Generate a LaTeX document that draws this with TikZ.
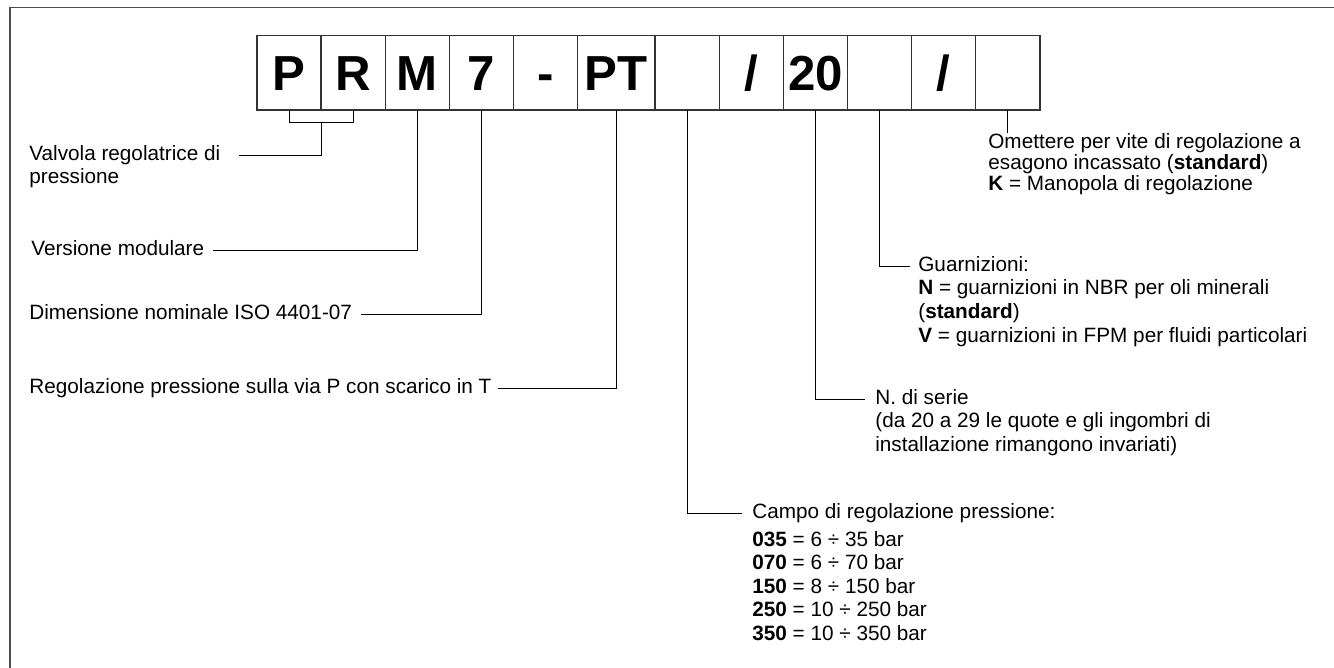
\documentclass[tikz,border=0pt]{standalone}
\usepackage{fontspec}
\setmainfont{Liberation Sans}
\usepackage{tikz}
\usetikzlibrary{positioning,calc}

\newcommand{\lblfont}{\fontsize{11.8}{13.4}\selectfont}
\newcommand{\codefont}{\fontsize{28}{28}\selectfont\bfseries}

\begin{document}
\begin{tikzpicture}[x=0.02cm, y=-0.02cm, node distance=0pt, every node/.style={font=\lblfont}]
\tikzset{codebox/.style={draw=black!80, line width=0.8pt, minimum width=1.2826cm, minimum height=1.486cm, inner sep=0pt, outer sep=0pt, text height=20pt, text depth=0pt, font=\codefont}}
\tikzset{leader/.style={draw=black, line width=0.5pt}}
\tikzset{lbl/.style={anchor=west, inner sep=0pt, text height=8.5pt, text depth=2.4pt}}
\tikzset{lblblock/.style={anchor=north west, inner sep=0pt, align=left}}
\useasboundingbox (0,0) rectangle (1334,668);
\draw[black!70, line width=0.8pt] (1334,7.5) -- (10,7.5) -- (10,668);
\node[codebox, anchor=north west] (bP) at (257,35.7) {P};
\node[codebox, right=of bP] (bR) {R};
\node[codebox, right=of bR] (bM) {M};
\node[codebox, right=of bM] (b7) {7};
\node[codebox, right=of b7] (bDash) {-};
\node[codebox, right=of bDash, minimum width=1.552cm] (bPT) {PT};
\node[codebox, right=of bPT] (bRange) {};
\node[codebox, right=of bRange] (bSlashA) {/};
\node[codebox, right=of bSlashA] (b20) {20};
\node[codebox, right=of b20] (bSeal) {};
\node[codebox, right=of bSeal] (bSlashB) {/};
\node[codebox, right=of bSlashB] (bKnob) {};
\node[lblblock] (valvola) at (29,145) {Valvola regolatrice di\\pressione};
\node[lbl] (versione) at (31,250) {Versione modulare};
\node[lbl] (dimensione) at (29,314) {Dimensione nominale ISO 4401-07};
\node[lbl] (regolazione) at (29,388) {Regolazione pressione sulla via P con scarico in T};
\node[lblblock, font=\fontsize{11.8}{12}\selectfont] (omettere) at (988,133) {Omettere per vite di regolazione a\\esagono incassato (\textbf{standard})\\\textbf{K} = Manopola di regolazione};
\node[lblblock] (guarnizioni) at (918,256) {Guarnizioni:\\\textbf{N} = guarnizioni in NBR per oli minerali\\(\textbf{standard})\\\textbf{V} = guarnizioni in FPM per fluidi particolari};
\node[lblblock] (serie) at (875,389) {N. di serie\\(da 20 a 29 le quote e gli ingombri di\\installazione rimangono invariati)};
\node[lblblock] (campo) at (752,503) {Campo di regolazione pressione:\\[2.5pt]\textbf{035} = 6 ÷ 35 bar\\\textbf{070} = 6 ÷ 70 bar\\\textbf{150} = 8 ÷ 150 bar\\\textbf{250} = 10 ÷ 250 bar\\\textbf{350} = 10 ÷ 350 bar};
\draw[leader] (bP.south) -- ++(0,12.7) -| (bR.south);
\coordinate (prMid) at ($(bP.south)!0.5!(bR.south)+(0,12.7)$);
\draw[leader, shorten >=0.36cm] (prMid) |- ([yshift=-0.2cm]valvola.north east);
\draw[leader, shorten >=0.16cm] (bM.south) |- (versione.east);
\draw[leader, shorten >=0.18cm] (b7.south) |- (dimensione.east);
\draw[leader, shorten >=0.12cm] (bPT.south) |- (regolazione.east);
\draw[leader] (bKnob.south) -- (bKnob.south |- omettere.north);
\draw[leader, shorten >=0.16cm] (bSeal.south) |- ([yshift=-0.2cm]guarnizioni.north west);
\draw[leader, shorten >=0.2cm] (b20.south) |- ([yshift=-0.2cm]serie.north west);
\draw[leader, shorten >=0.2cm] (bRange.south) |- ([yshift=-0.2cm]campo.north west);
\end{tikzpicture}
\end{document}
